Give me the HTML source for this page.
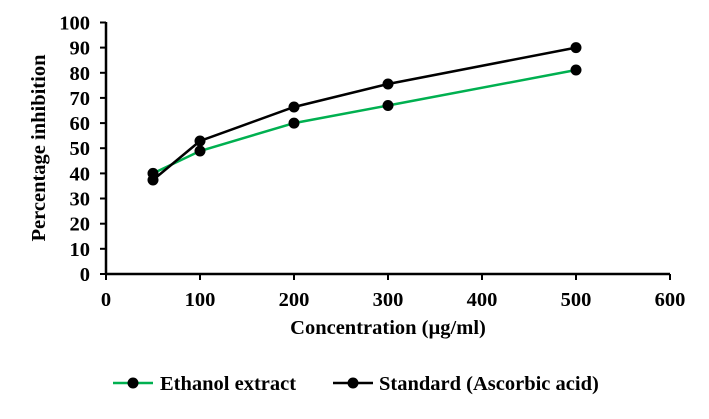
<!DOCTYPE html>
<html><head><style>body{margin:0;background:#fff}</style></head><body>
<svg width="709" height="414" xmlns="http://www.w3.org/2000/svg" font-family="Liberation Serif, serif" font-weight="bold">
<rect width="709" height="414" fill="#fff"/>
<g stroke="#000" stroke-width="2.5">
<line x1="106" y1="22" x2="106" y2="275"/>
<line x1="105" y1="274" x2="670" y2="274"/>
</g>
<g stroke="#000" stroke-width="2">
<line x1="100" y1="22.5" x2="106" y2="22.5"/><line x1="100" y1="47.6" x2="106" y2="47.6"/><line x1="100" y1="72.8" x2="106" y2="72.8"/><line x1="100" y1="97.9" x2="106" y2="97.9"/><line x1="100" y1="123.1" x2="106" y2="123.1"/><line x1="100" y1="148.2" x2="106" y2="148.2"/><line x1="100" y1="173.4" x2="106" y2="173.4"/><line x1="100" y1="198.5" x2="106" y2="198.5"/><line x1="100" y1="223.7" x2="106" y2="223.7"/><line x1="100" y1="248.8" x2="106" y2="248.8"/><line x1="100" y1="274" x2="106" y2="274"/>
<line x1="106" y1="274" x2="106" y2="280"/><line x1="200" y1="274" x2="200" y2="280"/><line x1="294" y1="274" x2="294" y2="280"/><line x1="388" y1="274" x2="388" y2="280"/><line x1="482" y1="274" x2="482" y2="280"/><line x1="576" y1="274" x2="576" y2="280"/><line x1="670" y1="274" x2="670" y2="280"/>
</g>
<g font-size="20.5" text-anchor="end">
<text x="90" y="29.5">100</text><text x="90" y="54.6">90</text><text x="90" y="79.8">80</text><text x="90" y="104.9">70</text><text x="90" y="130.1">60</text><text x="90" y="155.2">50</text><text x="90" y="180.4">40</text><text x="90" y="205.5">30</text><text x="90" y="230.7">20</text><text x="90" y="255.8">10</text><text x="90" y="281">0</text>
</g>
<g font-size="20.5" text-anchor="middle">
<text x="106" y="306">0</text><text x="200" y="306">100</text><text x="294" y="306">200</text><text x="388" y="306">300</text><text x="482" y="306">400</text><text x="576" y="306">500</text><text x="670" y="306">600</text>
<text x="388" y="334">Concentration (µg/ml)</text>
<text transform="translate(45,148) rotate(-90)">Percentage inhibition</text>
</g>
<polyline fill="none" stroke="#00b050" stroke-width="2.5" points="153,173.4 200,151 294,123.1 388,105.5 576,70"/>
<polyline fill="none" stroke="#000" stroke-width="2.5" points="153,180 200,141 294,107 388,84 576,47.6"/>
<g fill="#000">
<circle cx="153" cy="173.4" r="5.5"/><circle cx="200" cy="151" r="5.5"/><circle cx="294" cy="123.1" r="5.5"/><circle cx="388" cy="105.5" r="5.5"/><circle cx="576" cy="70" r="5.5"/>
<circle cx="153" cy="180" r="5.5"/><circle cx="200" cy="141" r="5.5"/><circle cx="294" cy="107" r="5.5"/><circle cx="388" cy="84" r="5.5"/><circle cx="576" cy="47.6" r="5.5"/>
</g>
<line x1="113" y1="383" x2="153" y2="383" stroke="#00b050" stroke-width="2.5"/><circle cx="133" cy="383" r="5.5"/>
<line x1="333" y1="383" x2="373" y2="383" stroke="#000" stroke-width="2.5"/><circle cx="353" cy="383" r="5.5"/>
<g font-size="20.5"><text x="160" y="390">Ethanol extract</text><text x="379" y="390">Standard (Ascorbic acid)</text></g>
</svg>
</body></html>
